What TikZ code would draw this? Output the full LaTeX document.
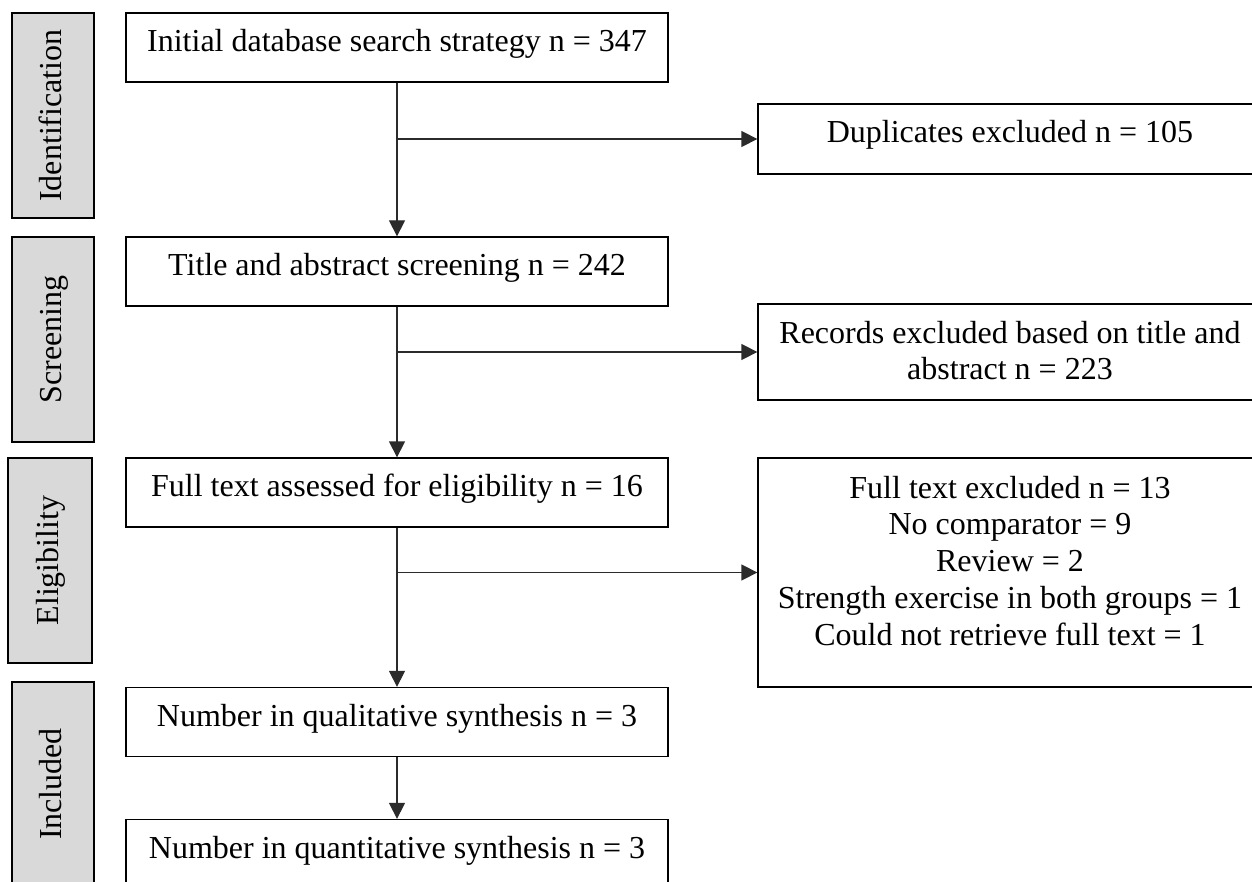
\documentclass[tikz,border=0pt]{standalone}
\usepackage{fontspec}
\setmainfont{Liberation Serif}
\usetikzlibrary{arrows.meta}
\definecolor{phasegray}{HTML}{D9D9D9}
\definecolor{linegray}{HTML}{2B2B2B}
\begin{document}
\begin{tikzpicture}[x=1pt,y=-1pt,
  txt/.style={font=\fontsize{32}{36.7}\selectfont},
  frame/.style={txt, draw=black, line width=1.3pt, fill=white, inner sep=0pt},
  mainbox/.style={frame, minimum width=542pt, minimum height=69pt,
    text height=22pt, text depth=14pt},
  sidebox/.style={frame, fill=phasegray, rotate=90, minimum width=205pt,
    minimum height=82pt, text height=22pt, text depth=6pt},
  outbox/.style={frame, minimum width=504pt, align=center},
  flow/.style={draw=linegray, line width=1.3pt,
    -{Triangle[length=16pt,width=16pt]}}
]
\useasboundingbox (0,0) rectangle (1252,882);
\clip (0,0) rectangle (1252,882);

% phase labels on the left
\node[sidebox] (pid) at (53,115.5) {Identification};
\node[sidebox] (psc) at (53,339.5) {Screening};
\node[sidebox, minimum height=84pt] (pel) at (50,560.5) {Eligibility};
\node[sidebox, minimum width=204pt] (pin) at (53,784) {Included};

% main flow
\node[mainbox] (b1) at (397,47.5) {Initial database search strategy n = 347};
\node[mainbox] (b2) at (397,271.5) {Title and abstract screening n = 242};
\node[mainbox] (b3) at (397,492.5) {Full text assessed for eligibility n = 16};
\node[mainbox] (b4) at (397,722) {Number in qualitative synthesis n = 3};
\node[mainbox] (b5) at (397,854) {Number in quantitative synthesis n = 3};

% exclusions
\node[outbox, minimum height=70pt, text height=22pt, text depth=14pt] (x1) at (1010,139)
  {Duplicates excluded n = 105};
\node[outbox, minimum height=96pt, text depth=3pt] (x2) at (1010,352)
  {Records excluded based on title and\\abstract n = 223};
\node[outbox, minimum height=229pt, text depth=24pt] (x3) at (1010,572.5)
  {Full text excluded n = 13\\No comparator = 9\\Review = 2\\Strength exercise in both groups = 1\\Could not retrieve full text = 1};

% connectors
\draw[flow] (b1) -- (b2);
\draw[flow] (b2) -- (b3);
\draw[flow] (b3) -- (b4);
\draw[flow] (b4) -- (b5);
\draw[flow] (b1.south |- x1.west) -- (x1.west);
\draw[flow] (b2.south |- x2.west) -- (x2.west);
\draw[flow] (b3.south |- x3.west) -- (x3.west);
\end{tikzpicture}
\end{document}
